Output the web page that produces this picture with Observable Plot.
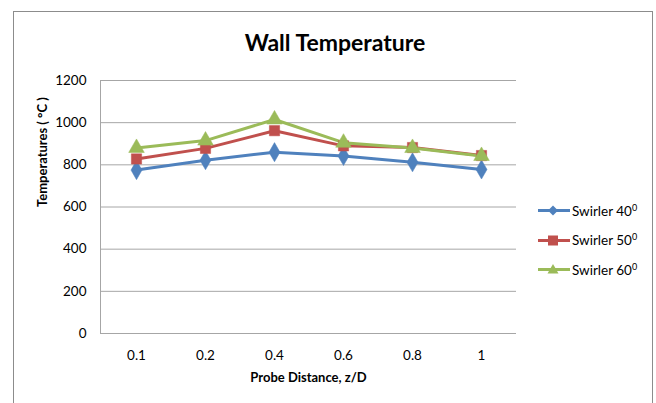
<!DOCTYPE html>
<html>
<head>
<meta charset="utf-8">
<script src="https://cdn.jsdelivr.net/npm/d3@7"></script>
<script src="https://cdn.jsdelivr.net/npm/@observablehq/plot@0.6"></script>
<style>
  html, body { margin: 0; padding: 0; background: #fff; }
  #wrap { position: relative; width: 656px; height: 403px; overflow: hidden; font-family: Lato, "Open Sans", sans-serif; }
  #border { position: absolute; left: 13px; top: 11px; width: 640px; height: 420px; border: 1.5px solid #8c8c8c; box-sizing: border-box; }
  #title { position: absolute; left: 0; width: 670px; top: 28px; text-align: center; font-size: 23px; font-weight: bold; color: #000; }
  #legend { position: absolute; left: 538px; top: 196px; font-size: 13.5px; color: #000; }
  .item { display: flex; align-items: center; height: 29.5px; }
  .item svg { margin-right: 2px; }
  .item sup { font-size: 9px; vertical-align: 5px; line-height: 0; }
  #chart { position: absolute; left: 0; top: 0; }
</style>
</head>
<body>
<div id="wrap">
  <div id="border"></div>
  <div id="chart"></div>
  <div id="title">Wall Temperature</div>
  <div id="legend"></div>
</div>
<script>
const categories = ["0.1", "0.2", "0.4", "0.6", "0.8", "1"];
const seriesNames = ["Swirler 40⁰", "Swirler 50⁰", "Swirler 60⁰"];
const legendBase = ["Swirler 40", "Swirler 50", "Swirler 60"];
const swirler40 = [775, 822, 860, 842, 812, 778];
const swirler50 = [828, 878, 962, 890, 882, 844];
const swirler60 = [880, 915, 1015, 905, 880, 842];
const yTicks = [0, 200, 400, 600, 800, 1000, 1200];
const colors = ["#4F81BD", "#C0504D", "#9BBB59"];
const symbols = ["diamond", "square", "triangle"];

const allSeries = [swirler40, swirler50, swirler60];
const data = [];
allSeries.forEach((vals, si) => {
  vals.forEach((v, i) => data.push({series: seriesNames[si], x: categories[i], y: v}));
});

const chart = Plot.plot({
  width: 656,
  height: 403,
  marginLeft: 100,
  marginRight: 140,
  marginTop: 80,
  marginBottom: 70,
  style: {fontFamily: "Lato, 'Open Sans', sans-serif", fontSize: "13px", color: "#000", background: "transparent"},
  x: {type: "point", domain: categories, padding: 0.5, label: null},
  y: {domain: [0, 1200], ticks: yTicks, label: null},
  color: {domain: seriesNames, range: colors},
  symbol: {domain: seriesNames, range: symbols},
  marks: [
    Plot.ruleY(yTicks, {stroke: "#a6a6a6", strokeWidth: 1}),
    Plot.frame({anchor: "left", stroke: "#a6a6a6", strokeWidth: 1}),
    Plot.axisY({ticks: yTicks, tickSize: 0, tickPadding: 14, fontSize: 13.5, tickFormat: d3.format("d"), label: null}),
    Plot.axisX({tickSize: 0, tickPadding: 17, fontSize: 13.5, label: null}),
    Plot.line(data, {x: "x", y: "y", z: "series", stroke: "series", strokeWidth: 3}),
    Plot.dot(data, {x: "x", y: "y", fill: "series", symbol: "series", r: 5.8, stroke: "series", strokeWidth: 0.5}),
    Plot.text(["Temperatures ( °C )"], {frameAnchor: "left", dx: -58, rotate: -90, fontWeight: "bold", fontSize: 13}),
    Plot.text(["Probe Distance, z/D"], {frameAnchor: "bottom", dy: 48, fontWeight: "bold", fontSize: 13})
  ]
});
document.getElementById("chart").appendChild(chart);

const legend = document.getElementById("legend");
const symbolPaths = {
  diamond: '<path d="M15,0.5 L20,5.5 L15,10.5 L10,5.5 Z"/>',
  square: '<rect x="10" y="0.5" width="10" height="10"/>',
  triangle: '<path d="M15,0 L20.5,9.5 L9.5,9.5 Z"/>'
};
seriesNames.forEach((name, i) => {
  const div = document.createElement("div");
  div.className = "item";
  div.innerHTML = `<svg width="32" height="11"><line x1="0" x2="32" y1="5.5" y2="5.5" stroke="${colors[i]}" stroke-width="3"/><g fill="${colors[i]}">${symbolPaths[symbols[i]]}</g></svg><span>${legendBase[i]}<sup>0</sup></span>`;
  legend.appendChild(div);
});
</script>
</body>
</html>
